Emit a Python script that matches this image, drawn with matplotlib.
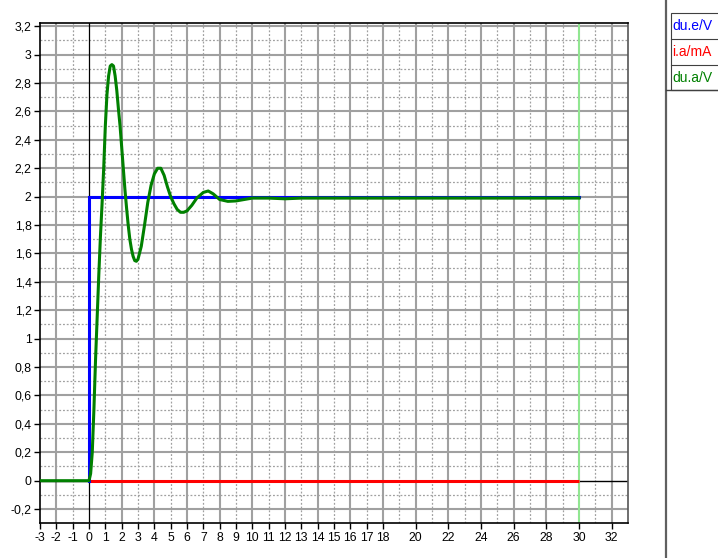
import matplotlib
matplotlib.use("Agg")
import matplotlib.pyplot as plt
from matplotlib.lines import Line2D
from matplotlib.patches import Rectangle

# ---- data ----
x_in = [0, 0, 30]            # du.e/V
y_in = [0, 2, 2]
x_cur = [0, 30]              # i.a/mA
y_cur = [0, 0]
x_out = [-3, 0, 0.1, 0.2, 0.3, 0.4, 0.5, 0.6, 0.7, 0.8, 0.9, 1.0, 1.1, 1.2, 1.3, 1.4,
         1.5, 1.6, 1.7, 1.8, 1.9, 2.0, 2.1, 2.2, 2.3, 2.4, 2.5, 2.6, 2.7, 2.8, 2.9,
         3.0, 3.2, 3.4, 3.6, 3.8, 4.0, 4.2, 4.4, 4.6, 4.8, 5.0, 5.2, 5.4, 5.6, 5.8,
         6.0, 6.3, 6.6, 7.0, 7.3, 7.6, 8.0, 8.5, 9.0, 9.5, 10, 11, 12, 13, 14, 16,
         18, 20, 25, 30]
y_out = [0, 0, 0.05, 0.2, 0.5, 0.85, 1.15, 1.45, 1.72, 1.95, 2.2, 2.5, 2.72, 2.85, 2.92, 2.93,
         2.92, 2.85, 2.75, 2.62, 2.5, 2.35, 2.2, 2.05, 1.92, 1.8, 1.7, 1.63, 1.58, 1.55, 1.545,
         1.56, 1.65, 1.8, 1.96, 2.08, 2.16, 2.2, 2.2, 2.15, 2.07, 2.0, 1.95, 1.91, 1.89, 1.89,
         1.9, 1.94, 1.99, 2.03, 2.04, 2.02, 1.98, 1.967, 1.97, 1.98, 1.99, 1.99, 1.985, 1.99, 1.99, 1.99,
         1.99, 1.99, 1.99, 1.99]

x_ticks = list(range(-3, 19)) + [20, 22, 24, 26, 28, 30, 32]
y_ticks = [-0.2, 0, 0.2, 0.4, 0.6, 0.8, 1.0, 1.2, 1.4, 1.6, 1.8, 2.0, 2.2, 2.4, 2.6, 2.8, 3.0, 3.2]
legend_labels = ["du.e/V", "i.a/mA", "du.a/V"]
legend_colors = ["#0000ff", "#ff0000", "#008000"]

W, H = 718, 558
fig = plt.figure(figsize=(W / 100, H / 100), dpi=100)
plt.rcParams['font.family'] = ['Liberation Sans', 'DejaVu Sans']

L, R, T, B = 40, 628, 22.7, 523.3
ax = fig.add_axes([L / W, (H - B) / H, (R - L) / W, (B - T) / H])
ax.set_xlim(-3, 33)
ax.set_ylim(-0.3, 3.225)

grid_c = "#a0a0a0"
# vertical grid
for v in range(-2, 33):
    if v == 0:
        continue
    if v % 2 == 0:
        ax.axvline(v, color=grid_c, lw=1.5, zorder=0)
    else:
        ax.axvline(v, color=grid_c, lw=0.9, ls=(0, (1.5, 1.5)), zorder=0)
# horizontal grid
for k in range(-2, 33):
    yv = k / 10
    if k == 0:
        continue
    if k % 2 == 0:
        ax.axhline(yv, color=grid_c, lw=1.5, zorder=0)
    else:
        ax.axhline(yv, color=grid_c, lw=0.9, ls=(0, (1.5, 1.5)), zorder=0)

ax.axvline(0, color="black", lw=0.9, zorder=1)
ax.axhline(0, color="black", lw=1.0, zorder=1)
ax.axvline(30, color="#90ee90", lw=1.3, zorder=1)

ax.plot(x_cur, y_cur, color="#ff0000", lw=2.2, zorder=3, solid_capstyle='butt')
ax.plot(x_in, y_in, color="#0000ff", lw=2.2, zorder=4, solid_joinstyle='miter')
ax.plot(x_out, y_out, color="#008000", lw=2.2, zorder=5)

ax.set_xticks(x_ticks)
ax.set_xticklabels([str(t) for t in x_ticks])
ax.set_yticks(y_ticks)
ax.set_yticklabels([("%g" % t).replace(".", ",") if t != 0 else "0" for t in y_ticks])
ax.tick_params(direction="out", length=4, width=1, color="black", labelsize=8.8, pad=2)
for s in ax.spines.values():
    s.set_color("black")
    s.set_linewidth(1.2)
ax.spines['right'].set_color("#555555")

# right panel separator & legend
fig.add_artist(Line2D([666 / W, 666 / W], [1, 1 - 557 / H], color="#606060", lw=1.6, transform=fig.transFigure))
fig.add_artist(Line2D([666 / W, 1], [1 - 90 / H, 1 - 90 / H], color="#404040", lw=1.0, transform=fig.transFigure))
fig.add_artist(Rectangle((671 / W, 1 - 90 / H), (W - 671 + 2) / W, (90 - 13) / H, fill=False,
                         edgecolor="#404040", lw=0.8, transform=fig.transFigure))
rows = [13, 39, 65, 90]
for i, (lab, col) in enumerate(zip(legend_labels, legend_colors)):
    if i > 0:
        fig.add_artist(Line2D([671 / W, 1], [1 - rows[i] / H] * 2, color="#404040", lw=0.8,
                              transform=fig.transFigure))
    yc = (rows[i] + rows[i + 1]) / 2
    fig.text(672 / W, 1 - yc / H, lab, color=col, fontsize=10, va="center", ha="left")

fig.savefig("out.png", dpi=100)
